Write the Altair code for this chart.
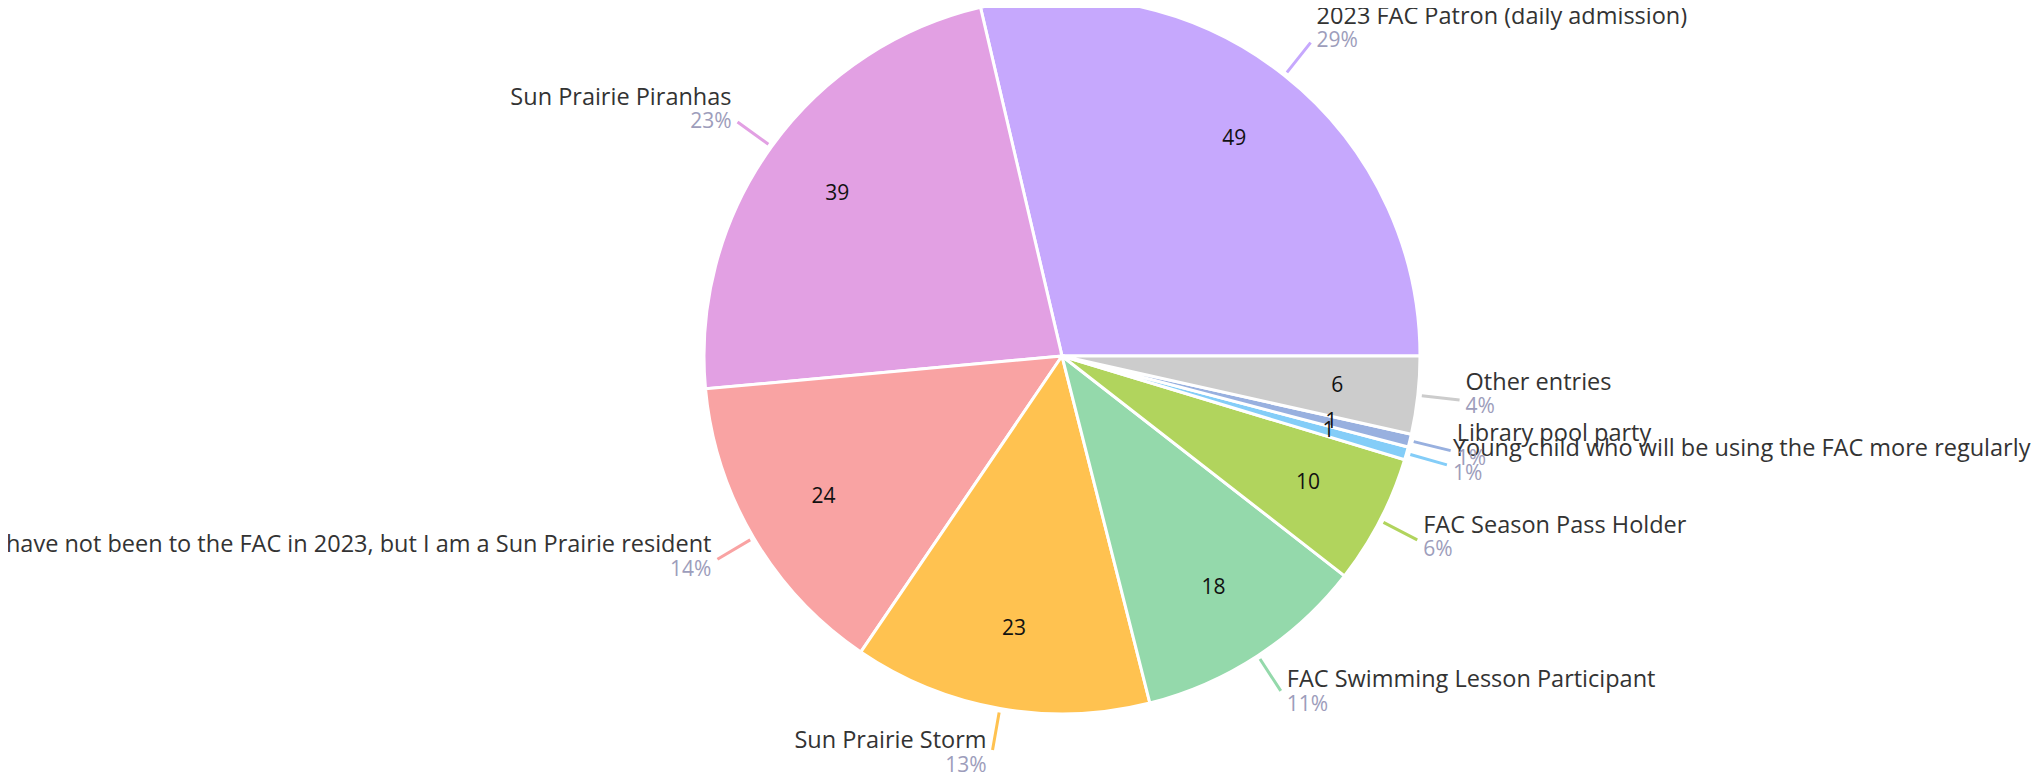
import math
import altair as alt
import pandas as pd

categories = [
    "2023 FAC Patron (daily admission)",
    "Sun Prairie Piranhas",
    "I have not been to the FAC in 2023, but I am a Sun Prairie resident",
    "Sun Prairie Storm",
    "FAC Swimming Lesson Participant",
    "FAC Season Pass Holder",
    "Young child who will be using the FAC more regularly",
    "Library pool party",
    "Other entries",
]
values = [49, 39, 24, 23, 18, 10, 1, 1, 6]
colors = ["#c6a8fd", "#e2a0e3", "#f9a3a3", "#ffc250", "#94d9ab",
          "#b1d45d", "#84cdf8", "#98b0df", "#cccccc"]

total = sum(values)
df = pd.DataFrame({"category": categories, "value": values,
                   "idx": list(range(len(values)))})

CX, CY, R = 1054, 348, 358
FONT = "Open Sans"

theta_scale = alt.Scale(domain=[0, total], range=[2.5 * math.pi, 0.5 * math.pi])
color = alt.Color("category:N", scale=alt.Scale(domain=categories, range=colors), legend=None)
cx = alt.value(CX)
cy = alt.value(CY)

ang = f"(2.5 * PI - 2 * PI * (datum.cum - datum.value / 2) / {total})"
base = (
    alt.Chart(df)
    .transform_window(cum="sum(value)", sort=[alt.SortField("idx")])
    .transform_calculate(
        start="datum.cum - datum.value",
        mid="datum.cum - datum.value / 2",
        side=f"sin{ang}",
        up=f"cos{ang}",
        pct=f"format(datum.value / {total}, '.0%')",
    )
)

arcs = base.mark_arc(outerRadius=R, stroke="white", strokeWidth=3).encode(
    theta=alt.Theta("start:Q", scale=theta_scale),
    theta2="cum:Q",
    color=color,
    x=cx, y=cy,
)

leaders = base.mark_arc(radius=R + 42, radius2=R + 4, filled=False, strokeWidth=3).encode(
    theta=alt.Theta("mid:Q", scale=theta_scale),
    theta2="mid:Q",
    color=color,
    x=cx, y=cy,
)

inner = base.mark_text(radius=277, fontSize=21, font=FONT, color="#111111",
                       baseline="middle", align="center").encode(
    theta=alt.Theta("mid:Q", scale=theta_scale),
    text="value:Q",
    x=cx, y=cy,
)

layers = [arcs, leaders, inner]
for cond, align, dx in [("datum.side >= 0", "left", 6), ("datum.side < 0", "right", -6)]:
    sub = base.transform_filter(cond)
    layers.append(
        sub.mark_text(radius=R + 42, align=align, baseline="middle", dx=dx,
                      dy=alt.ExprRef(expr="-18.5 - 9.5 * datum.up"),
                      fontSize=23.5, font=FONT, color="#333333").encode(
            theta=alt.Theta("mid:Q", scale=theta_scale),
            text="category:N",
            x=cx, y=cy,
        )
    )
    layers.append(
        sub.mark_text(radius=R + 42, align=align, baseline="middle", dx=dx,
                      dy=alt.ExprRef(expr="6 - 10 * datum.up"),
                      fontSize=21, font=FONT, color="#9d9dbb").encode(
            theta=alt.Theta("mid:Q", scale=theta_scale),
            text="pct:N",
            x=cx, y=cy,
        )
    )

chart = (
    alt.layer(*layers)
    .properties(width=2024, height=770, autosize=alt.AutoSizeParams(type="none"), padding=0)
    .configure_view(stroke=None)
)

chart.save("out.html", embed_options={"renderer": "svg", "actions": False})
